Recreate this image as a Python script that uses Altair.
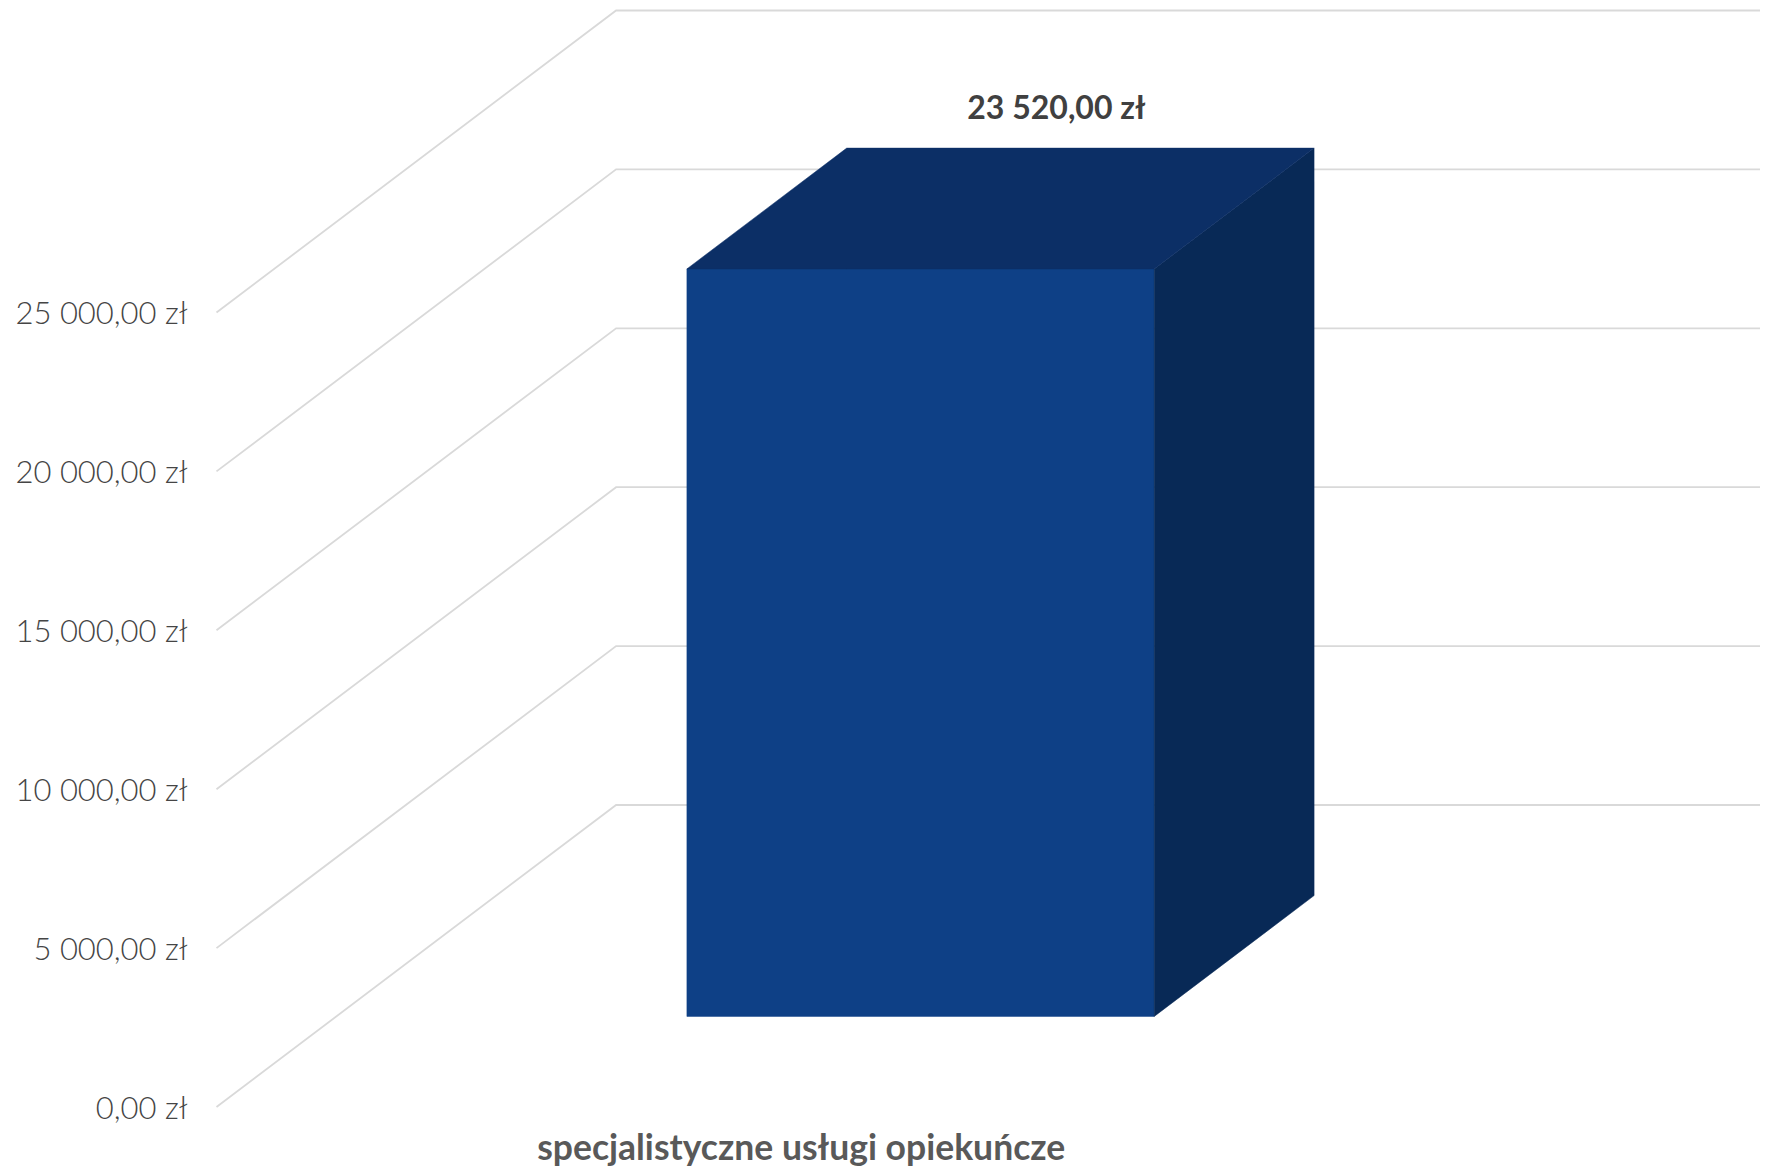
import altair as alt
import pandas as pd

categories = ["specjalistyczne usługi opiekuńcze"]
bar_values = [23520]
bar_labels = ["23 520,00 zł"]
tick_values = [0, 5000, 10000, 15000, 20000, 25000]

# oblique projection of the 3D chart: how far the back wall is shifted
DEPTH_X = 0.342      # in category widths
DEPTH_Y = 9503       # in value units
BAR_X0, BAR_X1 = 0.3, 0.7   # bar extent across the category
BAR_Z0, BAR_Z1 = 0.3, 0.7   # bar extent through the depth


def px(cat, depth):
    return cat + depth * DEPTH_X


def py(value, depth):
    return value + depth * DEPTH_Y


grid = []
for v in tick_values:
    grid.append({"tick": v, "o": 0, "x": px(0, 0), "y": py(v, 0)})
    grid.append({"tick": v, "o": 1, "x": px(0, 1), "y": py(v, 1)})
    grid.append({"tick": v, "o": 2, "x": px(1, 1), "y": py(v, 1)})
grid = pd.DataFrame(grid)

val = bar_values[0]
front = pd.DataFrame([
    {"x": px(BAR_X0, BAR_Z0), "y": py(val, BAR_Z0), "y2": py(0, BAR_Z0)},
    {"x": px(BAR_X1, BAR_Z0), "y": py(val, BAR_Z0), "y2": py(0, BAR_Z0)},
])
side = pd.DataFrame([
    {"x": px(BAR_X1, BAR_Z0), "y": py(val, BAR_Z0), "y2": py(0, BAR_Z0)},
    {"x": px(BAR_X1, BAR_Z1), "y": py(val, BAR_Z1), "y2": py(0, BAR_Z1)},
])
top = pd.DataFrame([
    {"x": px(BAR_X0, BAR_Z0), "y": py(val, BAR_Z0), "y2": py(val, BAR_Z0)},
    {"x": px(BAR_X0, BAR_Z1), "y": py(val, BAR_Z1), "y2": py(val, BAR_Z0)},
    {"x": px(BAR_X1, BAR_Z0), "y": py(val, BAR_Z1), "y2": py(val, BAR_Z0)},
    {"x": px(BAR_X1, BAR_Z1), "y": py(val, BAR_Z1), "y2": py(val, BAR_Z1)},
])
label = pd.DataFrame([{"x": px(0.5, BAR_Z1), "y": py(val, BAR_Z1), "t": bar_labels[0]}])

x_scale = alt.Scale(domain=[-0.17845, 1.32104], nice=False, zero=False)
y_scale = alt.Scale(domain=[-2014, 34581], nice=False, zero=False)
X = alt.X("x:Q", scale=x_scale, axis=alt.Axis(
    values=[0.5], title=None, domain=False, ticks=False, grid=False,
    labelExpr="'" + categories[0] + "'",
    labelFont="Lato", labelFontWeight="bold", labelFontSize=35.5, labelColor="#595959",
    labelBaseline="alphabetic", labelPadding=0, offset=-12, labelOverlap=False, labelLimit=1000,
))
Y = alt.Y("y:Q", scale=y_scale, axis=alt.Axis(
    values=tick_values, title=None, domain=False, ticks=False, grid=False,
    labelExpr="replace(replace(format(datum.value, ',.2f'), ',', ' '), '.', ',') + ' zł'",
    labelFont="Lato", labelFontWeight=300, labelFontSize=31, labelColor="#454545",
    labelPadding=0, offset=-179, labelOverlap=False, labelOffset=2.5,
))

grid_layer = alt.Chart(grid).mark_line(color="#d9d9d9", strokeWidth=1.8, clip=True).encode(
    x=X, y=Y, detail="tick:N", order="o:Q",
)

front_layer = alt.Chart(front).mark_area(color="#0e4086", stroke="#0e4086", strokeWidth=0.5).encode(x=X, y=Y, y2="y2:Q")
side_layer = alt.Chart(side).mark_area(color="#082956", stroke="#082956", strokeWidth=0.5).encode(x=X, y=Y, y2="y2:Q")
top_layer = alt.Chart(top).mark_area(color="#0c2f66", stroke="#0c2f66", strokeWidth=0.5).encode(x=X, y=Y, y2="y2:Q")
text_layer = alt.Chart(label).mark_text(
    font="Lato", fontWeight="bold", fontSize=32, color="#404040",
    align="center", baseline="alphabetic", dx=-24, dy=-29,
).encode(x=X, y=Y, text="t:N")

chart = alt.layer(grid_layer, front_layer, side_layer, top_layer, text_layer).properties(
    width=1752, height=1163, padding=0, background="white",
    autosize=alt.AutoSizeParams(type="none"),
).configure_view(strokeWidth=0)

chart.save("out.html", embed_options={"renderer": "svg", "actions": False})
